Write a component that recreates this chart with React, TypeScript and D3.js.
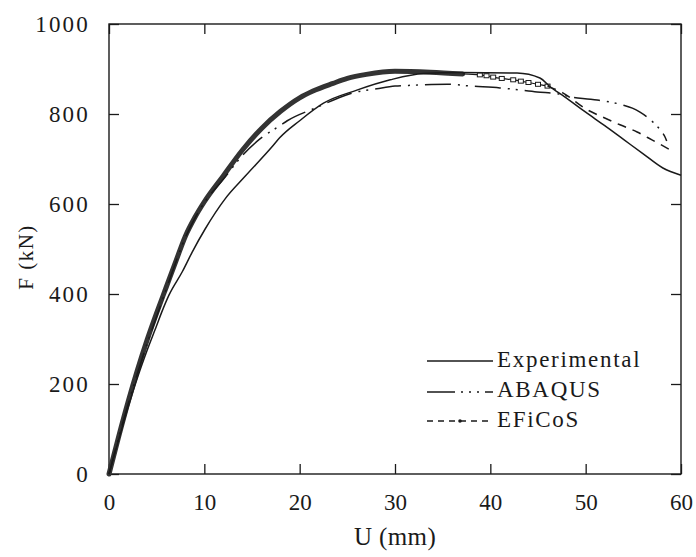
import React, { useEffect, useRef } from 'react';
import * as d3 from 'd3';

// Experimental curve (U in mm, F in kN)
const expU = [0, 1, 2, 3, 4, 5, 5.5, 6.3, 7.7, 8.7, 10.1, 12.2, 14.3, 17.1, 17.9, 20, 22.5, 26, 29.5, 33, 37, 42.8, 45.2, 46.3, 47.8, 50, 52, 54, 56, 58.1, 60];
const expF = [0, 75, 148, 215, 275, 330, 358, 398, 450, 492, 545, 612, 662, 727, 747, 785, 824, 853, 876, 890, 892, 891, 880, 860, 838, 804, 774, 743, 712, 680, 664];

// ABAQUS curve
const abqU = [0, 1, 2, 3, 4, 5, 6, 7, 8, 9, 10, 12, 14, 15.8, 18, 18.7, 21.6, 24, 25.6, 28.1, 30, 32, 35.5, 38, 41, 42, 44.9, 47.3, 48.4, 50.5, 51.2, 53.9, 54.9, 55.7, 56.8, 57.7, 58.3, 58.5];
const abqF = [0, 80, 155, 225, 290, 350, 410, 470, 525, 568, 603, 655, 708, 744, 775, 785, 813, 835, 847, 856, 862, 864, 866, 862, 858, 856, 849, 844, 838, 833, 831, 820, 813, 804, 787, 768, 750, 740];

// EFiCoS curve
const efU = [0, 1, 2, 3, 4, 5, 6, 7, 8, 9, 10, 12, 14, 16, 18, 20, 21.4, 23.5, 25, 27, 30, 33.7, 37.1, 38.9, 39.6, 40.3, 41.2, 42.4, 43.2, 44, 45, 46, 47.6, 50.2, 51.8, 53.6, 55.4, 57, 58.9];
const efF = [0, 82, 160, 232, 298, 358, 415, 472, 528, 570, 605, 663, 720, 768, 806, 836, 851, 868, 879, 888, 895, 893, 889, 887, 885, 882, 879, 876, 873, 870, 866, 862, 847, 809, 793, 776, 760, 742, 720];
const efThickEnd = 37.1;
const efMarkEnd = 46;

const xTicks = [0, 10, 20, 30, 40, 50, 60];
const yTicks = [0, 200, 400, 600, 800, 1000];
const legendLabels = ['Experimental', 'ABAQUS', 'EFiCoS'];

const font = 'Liberation Serif, Times New Roman, serif';
const ink = '#1a1a1a';

const App = () => {
  const svgRef = useRef(null);

  useEffect(() => {
    const svg = d3.select(svgRef.current);
    svg.selectAll('*').remove();
    const margin = { top: 24, right: 15, bottom: 83, left: 109 };
    const width = 696;
    const height = 557;

    const x = d3.scaleLinear().domain([0, 60]).range([margin.left, width - margin.right]);
    const y = d3.scaleLinear().domain([0, 1000]).range([height - margin.bottom, margin.top]);

    // frame
    svg.append('rect')
      .attr('x', x(0)).attr('y', y(1000))
      .attr('width', x(60) - x(0)).attr('height', y(0) - y(1000))
      .attr('fill', 'none').attr('stroke', ink).attr('stroke-width', 1.4);

    const styleAxis = (g) => {
      g.select('.domain').remove();
      g.attr('font-family', font);
      g.selectAll('line').attr('stroke', ink).attr('stroke-width', 1.3);
      g.selectAll('text').attr('fill', ink).style('font-family', font).style('font-size', '23px');
    };

    svg.append('g')
      .attr('transform', `translate(0,${y(0)})`)
      .call(d3.axisBottom(x).tickValues(xTicks).tickSizeInner(-10).tickSizeOuter(0).tickPadding(20).tickFormat(d3.format('d')))
      .call(styleAxis);
    svg.append('g')
      .attr('transform', `translate(0,${y(1000)})`)
      .call(d3.axisTop(x).tickValues(xTicks).tickSizeInner(-10).tickSizeOuter(0).tickFormat(() => ''))
      .call(styleAxis);
    svg.append('g')
      .attr('transform', `translate(${x(0)},0)`)
      .call(d3.axisLeft(y).tickValues(yTicks).tickSizeInner(-10).tickSizeOuter(0).tickPadding(19).tickFormat(d3.format('d')))
      .call(styleAxis)
      .call(g => g.selectAll('text').style('letter-spacing', '2.2px'));
    svg.append('g')
      .attr('transform', `translate(${x(60)},0)`)
      .call(d3.axisRight(y).tickValues(yTicks).tickSizeInner(-10).tickSizeOuter(0).tickFormat(() => ''))
      .call(styleAxis);

    // axis titles
    svg.append('text')
      .attr('x', (x(0) + x(60)) / 2).attr('y', 545)
      .attr('text-anchor', 'middle')
      .style('font-family', font).style('font-size', '25px').style('letter-spacing', '0.4px').attr('fill', ink)
      .text('U (mm)');
    svg.append('text')
      .attr('transform', `translate(33,257) rotate(-90)`)
      .attr('text-anchor', 'middle')
      .style('font-family', font).style('font-size', '21px').style('letter-spacing', '1.5px').attr('fill', ink)
      .text('F (kN)');

    const line = d3.line().x(d => x(d[0])).y(d => y(d[1])).curve(d3.curveMonotoneX);
    const pts = (u, f) => u.map((v, i) => [v, f[i]]);

    const plot = svg.append('g');

    // EFiCoS: dense markers up to the peak read as a thick band
    const ef = pts(efU, efF);
    plot.append('path')
      .attr('d', line(ef.filter(d => d[0] <= efThickEnd)))
      .attr('fill', 'none').attr('stroke', '#333').attr('stroke-width', 5)
      .attr('stroke-linejoin', 'round').attr('stroke-linecap', 'round');
    const efMid = ef.filter(d => d[0] >= efThickEnd && d[0] <= efMarkEnd);
    plot.append('path')
      .attr('d', line(efMid))
      .attr('fill', 'none').attr('stroke', ink).attr('stroke-width', 1.2);
    plot.selectAll('rect.mk')
      .data(efMid.slice(1))
      .enter().append('rect')
      .attr('class', 'mk')
      .attr('x', d => x(d[0]) - 2.5).attr('y', d => y(d[1]) - 2)
      .attr('width', 5).attr('height', 4)
      .attr('fill', '#fff').attr('stroke', ink).attr('stroke-width', 1);
    plot.append('path')
      .attr('d', line(ef.filter(d => d[0] >= efMarkEnd)))
      .attr('fill', 'none').attr('stroke', ink).attr('stroke-width', 1.5)
      .attr('stroke-dasharray', '9,7');

    // ABAQUS
    plot.append('path')
      .attr('d', line(pts(abqU, abqF)))
      .attr('fill', 'none').attr('stroke', ink).attr('stroke-width', 1.5)
      .attr('stroke-dasharray', '26,7,2,6,2,7');

    // Experimental
    plot.append('path')
      .attr('d', line(pts(expU, expF)))
      .attr('fill', 'none').attr('stroke', ink).attr('stroke-width', 1.5);

    // legend
    const lg = svg.append('g');
    const rowY = [367, 397, 427];
    const lineX0 = 427;
    const lineX1 = 493;
    lg.selectAll('text')
      .data(legendLabels)
      .enter().append('text')
      .attr('x', 497).attr('y', (d, i) => rowY[i])
      .style('font-family', font).style('font-size', '23px').style('letter-spacing', '1.7px').attr('fill', ink)
      .text(d => d);
    lg.append('line')
      .attr('x1', lineX0).attr('x2', lineX1).attr('y1', rowY[0] - 6).attr('y2', rowY[0] - 6)
      .attr('stroke', ink).attr('stroke-width', 1.5);
    lg.append('line')
      .attr('x1', lineX0).attr('x2', lineX1).attr('y1', rowY[1] - 5).attr('y2', rowY[1] - 5)
      .attr('stroke', ink).attr('stroke-width', 1.5).attr('stroke-dasharray', '28,6,2,6,2,6,2,6');
    lg.append('line')
      .attr('x1', lineX0).attr('x2', lineX1).attr('y1', rowY[2] - 6).attr('y2', rowY[2] - 6)
      .attr('stroke', ink).attr('stroke-width', 1.5).attr('stroke-dasharray', '6,5');
    lg.append('circle')
      .attr('cx', 460).attr('cy', rowY[2] - 6).attr('r', 1.8).attr('fill', ink);
  }, []);

  return (
    <svg ref={svgRef} width="696" height="557" style={{ position: 'absolute', left: 0, top: 0, background: '#fff' }}>
    </svg>
  );
};

export default App;
